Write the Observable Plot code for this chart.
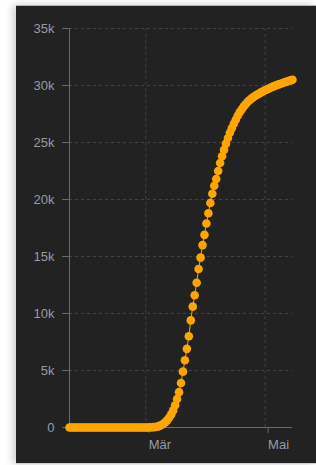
<!DOCTYPE html>
<html>
<head>
<meta charset="utf-8">
<script src="https://cdn.jsdelivr.net/npm/d3@7"></script>
<script src="https://cdn.jsdelivr.net/npm/@observablehq/plot@0.6"></script>
<style>
  html, body { margin: 0; padding: 0; background: #ffffff; width: 316px; height: 465px; overflow: hidden; }
  #box {
    position: absolute; left: 16px; top: 5px; width: 300px; height: 457px;
    background: #222222; border-top: 1px solid #b8b8b8; border-bottom: 1px solid #d0d0d0;
    box-shadow: -3px 0 8px rgba(0,0,0,0.2);
  }
  #box svg { display: block; }
</style>
</head>
<body>
<div id="box"></div>
<script>
// ---- data ----
const startDate = "2020-01-22";
const values = [
  0,0,0,0,0,0,0,0,0,0,
  0,0,0,0,0,0,0,0,0,0,
  0,0,0,0,0,0,0,0,0,0,
  0,0,0,0,0,0,0,0,0,0,
  0,10,20,30,50,80,140,220,330,470,
  650,880,1150,1500,1950,2500,3100,3900,4900,5900,
  6900,8000,9400,10600,11600,12700,13900,14900,16000,16900,
  17900,18800,19700,20500,21200,21800,22500,23200,23800,24350,
  24900,25400,25850,26250,26650,27000,27350,27650,27900,28150,
  28350,28550,28700,28850,28980,29100,29200,29300,29400,29500,
  29580,29660,29740,29820,29900,29970,30040,30100,30160,30220,
  30280,30340,30400,30450,30500
];
const yTicks = [0, 5000, 10000, 15000, 20000, 25000, 30000, 35000];
const yTickLabels = ["0", "5k", "10k", "15k", "20k", "25k", "30k", "35k"];
const xTickDates = ["2020-03-01", "2020-05-01"];
const xTickLabels = ["Mär", "Mai"];
const yMax = 35000;

// ---- build table ----
const start = new Date(startDate + "T00:00:00Z");
const data = values.map((v, i) => ({ date: new Date(start.getTime() + i * 86400000), value: v }));
const end = data[data.length - 1].date;
const xTicks = xTickDates.map(s => new Date(s + "T00:00:00Z"));

const orange = "#ffa500";
const gridColor = "#444444";
const axisColor = "#6a6a6a";

const chart = Plot.plot({
  width: 300,
  height: 457,
  marginLeft: 53,
  marginTop: 22,
  marginRight: 24,
  marginBottom: 36,
  style: { background: "transparent", color: "#9a9aa6", fontSize: "13px", fontFamily: "'Liberation Sans', Arial, sans-serif" },
  x: { type: "utc", domain: [start, end] },
  y: { domain: [0, yMax] },
  marks: [
    Plot.gridY(yTicks.filter(d => d > 0), { stroke: gridColor, strokeOpacity: 1, strokeDasharray: "3,3" }),
    Plot.gridX(xTicks, { stroke: gridColor, strokeOpacity: 1, strokeDasharray: "3,3" }),
    Plot.ruleX([start], { y1: 0, y2: yMax, stroke: axisColor }),
    Plot.ruleY([0], { stroke: axisColor }),
    Plot.axisY(yTicks, {
      tickSize: 7, tickPadding: 8, stroke: axisColor,
      tickFormat: d => yTickLabels[yTicks.indexOf(d)], label: null
    }),
    Plot.axisX(xTicks, {
      tickSize: 6, tickPadding: 6, stroke: axisColor, textAnchor: "start", dx: 3,
      tickFormat: d => xTickLabels[xTicks.findIndex(t => t.getTime() === d.getTime())], label: null
    }),
    Plot.line(data, { x: "date", y: "value", stroke: orange, strokeWidth: 1 }),
    Plot.dot(data, { x: "date", y: "value", r: 4.3, fill: orange, stroke: "none" })
  ]
});
document.getElementById("box").appendChild(chart);
</script>
</body>
</html>
